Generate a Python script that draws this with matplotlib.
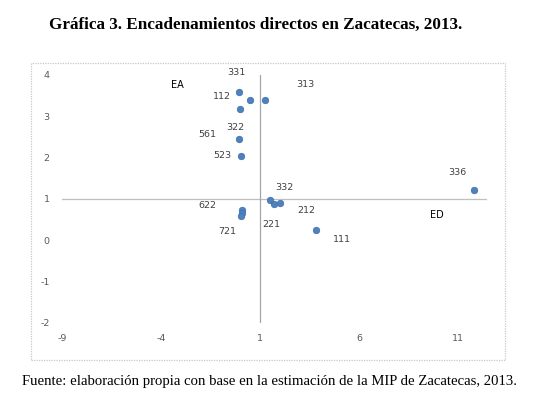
import matplotlib
matplotlib.use("Agg")
import matplotlib.pyplot as plt
from matplotlib.patches import Rectangle

# scatter points (encadenamientos hacia adelante / hacia atras)
pts_x = [-0.05, 0.49, 1.24, 0.00, -0.05, 0.06, 11.82, 1.50, 1.71, 2.01, 0.07, 0.10, 0.06, 3.83]
pts_y = [3.58, 3.39, 3.39, 3.17, 2.44, 2.04, 1.22, 0.97, 0.89, 0.91, 0.73, 0.66, 0.59, 0.25]

# sector labels and where they sit
sector_labels = ["331", "313", "112", "322", "561", "523", "336", "332", "622", "212", "221", "721", "111"]
label_x = [-0.21, 3.27, -0.92, -0.26, -1.68, -0.92, 10.95, 2.21, -1.68, 3.32, 1.56, -0.67, 5.14]
label_y = [4.05, 3.76, 3.47, 2.74, 2.55, 2.06, 1.65, 1.29, 0.85, 0.71, 0.39, 0.22, 0.03]

quadrant_labels = ["EA", "ED"]
quadrant_x = [-3.19, 9.94]
quadrant_y = [3.76, 0.61]

x_ticks = [-9, -4, 1, 6, 11]
y_ticks = [-2, -1, 0, 1, 2, 3, 4]

W, H = 547, 399
fig = plt.figure(figsize=(W / 100, H / 100), dpi=100)

# chart border
fig.patches.append(Rectangle((31 / W, 1 - 360 / H), (505 - 31) / W, (360 - 63) / H,
                             transform=fig.transFigure, fill=False,
                             edgecolor="#c8c8c8", linewidth=0.9, linestyle=(0, (1, 1))))

ax = fig.add_axes([62 / W, 1 - 323 / H, 425 / W, (323 - 75) / H])
ax.set_xlim(-9, -9 + 425 / 19.8)
ax.set_ylim(-2, 4)
for s in ax.spines.values():
    s.set_visible(False)
ax.axhline(1, color="#bfbfbf", linewidth=0.9, zorder=1)
ax.axvline(1, color="#a6a6a6", linewidth=0.9, zorder=1)

ax.scatter(pts_x, pts_y, s=22, color="#4f81bd", edgecolors="#3e6fae", linewidths=0.5, zorder=3)

for t, x, y in zip(sector_labels, label_x, label_y):
    ax.text(x, y, t, fontsize=6.8, color="#404040", ha="center", va="center", family="DejaVu Sans")
for t, x, y in zip(quadrant_labels, quadrant_x, quadrant_y):
    ax.text(x, y, t, fontsize=7, color="black", ha="center", va="center", family="DejaVu Sans")

ax.set_xticks(x_ticks)
ax.set_yticks(y_ticks)
ax.set_xticklabels([str(v) for v in x_ticks])
ax.set_yticklabels([str(v) for v in y_ticks])
ax.tick_params(length=0, labelsize=6.8, labelcolor="#595959", pad=8)
ax.tick_params(axis="y", pad=9)

fig.text(256 / W, 1 - 25 / H, "Gráfica 3. Encadenamientos directos en Zacatecas, 2013.",
         ha="center", va="center", fontsize=12.3, fontweight="bold", family="Liberation Serif")
fig.text(269.5 / W, 1 - 381 / H,
         "Fuente: elaboración propia con base en la estimación de la MIP de Zacatecas, 2013.",
         ha="center", va="center", fontsize=10.6, family="Liberation Serif")

fig.savefig("out.png", dpi=100)
